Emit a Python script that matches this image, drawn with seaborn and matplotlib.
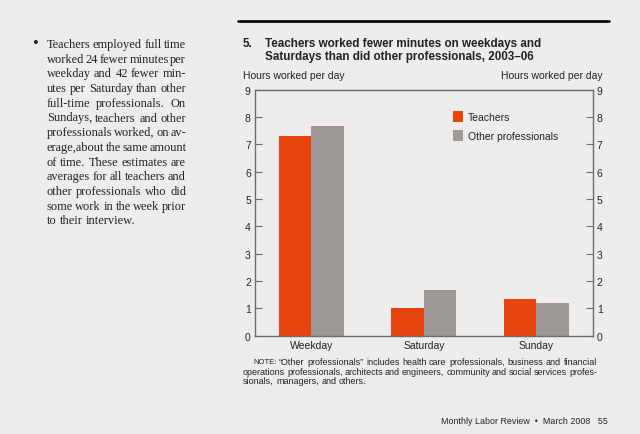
import matplotlib
matplotlib.use("Agg")
import matplotlib.pyplot as plt
import seaborn as sns
import pandas as pd
from matplotlib.lines import Line2D

# data
days = ["Weekday", "Saturday", "Sunday"]
teachers = [7.3, 1.0, 1.34]
others = [7.68, 1.66, 1.21]
groups = ["Teachers", "Other professionals"]
yticks = list(range(0, 10))

bullet_lines = [
    "Teachers employed full time",
    "worked 24 fewer minutes per",
    "weekday and 42 fewer min-",
    "utes per Saturday than other",
    "full-time professionals. On",
    "Sundays, teachers and other",
    "professionals worked, on av-",
    "erage,about the same amount",
    "of time. These estimates are",
    "averages for all teachers and",
    "other professionals who did",
    "some work in the week prior",
    "to their interview.",
]
note_lines = [
    "NOTE: \u201cOther professionals\u201d includes health care professionals, business and financial",
    "operations professionals, architects and engineers, community and social services profes-",
    "sionals, managers, and others.",
]

BG = "#eeedeb"
ORANGE = "#e8440f"
GRAY = "#9e9896"
W, H = 640, 435

sns.set_style("white")
plt.rcParams["font.family"] = ["Liberation Sans", "DejaVu Sans"]

df = pd.DataFrame({
    "day": days * 2,
    "hours": teachers + others,
    "group": [groups[0]] * 3 + [groups[1]] * 3,
})

fig = plt.figure(figsize=(6.4, 4.35), dpi=100)
fig.patch.set_facecolor(BG)
ax = fig.add_axes([255 / W, 1 - 336.7 / H, 337.7 / W, 246 / H])
ax.set_facecolor(BG)

sns.barplot(data=df, x="day", y="hours", hue="group", order=days,
            palette=[ORANGE, GRAY], width=0.575, gap=0, saturation=1,
            linewidth=0, ax=ax)

ax.set_xlim(-0.5, 2.5)
ax.set_ylim(0, 9)
ax.set_yticks(yticks)
ax.set_xlabel("")
ax.set_ylabel("")
for s in ax.spines.values():
    s.set_visible(True)
    s.set_color("#6e6c6a")
    s.set_linewidth(1.0)
ax.yaxis.set_ticks_position("both")
ax.tick_params(axis="y", direction="in", length=5, width=0.8, color="#6e6c6a",
               labelsize=7.5, pad=3, labelright=True, labelcolor="#222")
ax.tick_params(axis="x", length=0, labelsize=7.5, pad=3, labelcolor="#222")

leg = ax.legend(loc="upper left", bbox_to_anchor=(0.585, 0.912), frameon=False,
                fontsize=7.5, handlelength=1.0, handleheight=1.25,
                handletextpad=0.5, labelspacing=0.75, borderpad=0,
                borderaxespad=0)
for t in leg.get_texts():
    t.set_color("#222")

# page decorations
fig.add_artist(Line2D([238 / W, 609 / W], [1 - 21.7 / H] * 2, color="black", lw=1.9))
fig.text(243 / W, 1 - 44 / H, "5.", fontsize=8.4, fontweight="bold", va="center", color="#222")
fig.text(265 / W, 1 - 44 / H, "Teachers worked fewer minutes on weekdays and",
         fontsize=8.4, fontweight="bold", va="center", color="#222")
fig.text(265 / W, 1 - 57 / H, "Saturdays than did other professionals, 2003\u201306",
         fontsize=8.4, fontweight="bold", va="center", color="#222")
fig.text(243 / W, 1 - 76 / H, "Hours worked per day", fontsize=7.5, va="center", color="#222")
fig.text(603 / W, 1 - 76 / H, "Hours worked per day", fontsize=7.5, va="center",
         ha="right", color="#222")
fig.text(608 / W, 1 - 421.7 / H, "Monthly Labor Review  \u2022  March 2008   55",
         fontsize=6.4, va="center", ha="right", color="#222")

renderer = fig.canvas.get_renderer()


def width_of(s, **kw):
    t = fig.text(0, 0, s, **kw)
    w = t.get_window_extent(renderer).width
    t.remove()
    return w


def justify(lines, x0, x1, y0, dy, indent=0, special=None, **kw):
    special = special or {}
    space = width_of("a a", **kw) - 2 * width_of("a", **kw)
    for i, line in enumerate(lines):
        y = 1 - (y0 + i * dy) / H
        words = line.split(" ")
        start = x0 + (indent if i == 0 else 0)
        texts = []
        for w in words:
            opts = dict(kw)
            opts.update(special.get(w, {}))
            texts.append(fig.text(0, y, w, va="center", **opts))
        widths = [t.get_window_extent(renderer).width for t in texts]
        if i == len(lines) - 1:
            gap = space
        else:
            gap = max((x1 - start - sum(widths)) / max(len(words) - 1, 1), 1.5)
        x = start
        for t, w in zip(texts, widths):
            t.set_x(x / W)
            x += w + gap


serif = ["Liberation Serif", "DejaVu Serif"]
fig.text(35 / W, 1 - 44 / H, "\u2022", fontsize=12, va="center", ha="center",
         family=serif, color="#222")
justify(bullet_lines, 46.7, 186, 45, 14.7, fontsize=8.9, family=serif, color="#222")
justify(note_lines, 243, 597, 363, 9.1, indent=10,
        special={"NOTE:": {"fontsize": 5.5}}, fontsize=6.5, color="#222")

fig.savefig("out.png", dpi=100, facecolor=BG)
